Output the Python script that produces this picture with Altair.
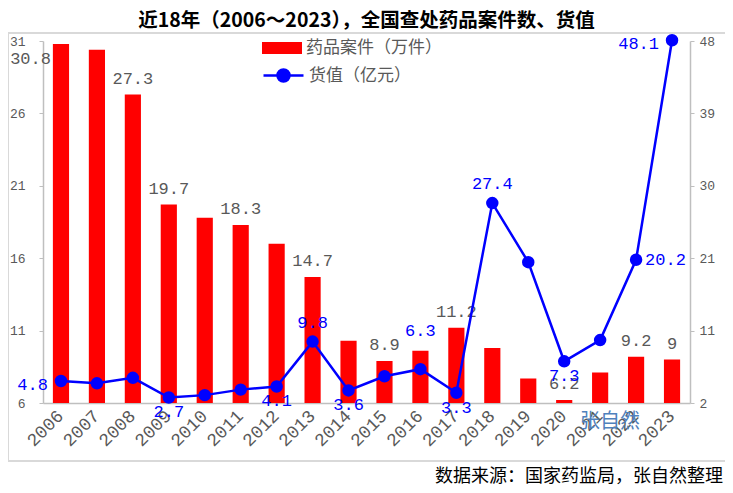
import altair as alt
import pandas as pd

years = [str(y) for y in range(2006, 2024)]
cases = [30.8, 30.4, 27.3, 19.7, 18.8, 18.3, 17.0, 14.7, 10.3, 8.9, 9.6, 11.2, 9.8, 7.7, 6.2, 8.1, 9.2, 9]
values = [4.8, 4.5, 5.2, 2.7, 3.0, 3.7, 4.1, 9.8, 3.6, 5.4, 6.3, 3.3, 27.4, 19.9, 7.3, 10.0, 20.2, 48.1]

case_label_above = ["2008", "2009", "2011", "2013", "2015", "2017", "2020", "2022", "2023"]
case_label_left = ["2006"]
value_label_left = ["2006", "2023"]
value_label_below = ["2009", "2012", "2014", "2017", "2020"]
value_label_above = ["2013", "2018"]
value_label_high = ["2016"]
value_label_right = ["2022"]

left_ticks = [6, 11, 16, 21, 26, 31]
right_ticks = [2, 11.2, 20.4, 29.6, 38.8, 48]
right_tick_labels = ["2", "11", "21", "30", "39", "48"]

case_name = "药品案件（万件）"
value_name = "货值（亿元）"
title_text = "近18年（2006～2023），全国查处药品案件数、货值"
source_text = "数据来源：国家药监局，张自然整理"
mark_text_str = "张自然"

df = pd.DataFrame({"year": years, "cases": cases, "values": values,
                   "s1": [case_name] * len(years), "s2": [value_name] * len(years)})

W, H = 647, 362
NUM_FONT = "Liberation Mono"
CJK = "Noto Sans CJK SC"
GRAY = "#595959"
AX = "#bfbfbf"

x = alt.X("year:N", title=None,
          scale=alt.Scale(paddingInner=0.55, paddingOuter=0.275),
          axis=alt.Axis(labelAngle=-45, labelAlign="right", labelBaseline="middle",
                        labelPadding=10, ticks=False, domainColor=AX, domainWidth=1.5,
                        labelFont=NUM_FONT, labelFontSize=18, labelColor=GRAY))

yl = alt.Y("cases:Q", title=None, scale=alt.Scale(domain=[6, 31], zero=False, nice=False),
           axis=alt.Axis(values=left_ticks, orient="left", grid=False, domainColor=AX,
                         domainWidth=1.5, tickColor=AX, tickSize=4, labelPadding=14,
                         labelFont=NUM_FONT, labelFontSize=13, labelColor=GRAY))

yr = alt.Y("values:Q", title=None, scale=alt.Scale(domain=[2, 48], zero=False, nice=False),
           axis=alt.Axis(values=right_ticks, orient="right", grid=False, domainColor=AX,
                         domainWidth=1.5, tickColor=AX, tickSize=4, labelPadding=5,
                         labelFont=NUM_FONT, labelFontSize=13, labelColor=GRAY,
                         labelExpr=str(right_tick_labels) + "[round((datum.value-2)/9.2)]"))

base = alt.Chart(df)

bars = base.mark_bar(clip=True).encode(
    x=x, y=yl,
    fill=alt.Fill("s1:N", scale=alt.Scale(domain=[case_name], range=["#ff0000"]),
                  legend=alt.Legend(orient="none", legendX=219, legendY=-13, title=None,
                                    symbolType="M-1,-0.3L1,-0.3L1,0.3L-1,0.3Z",
                                    symbolSize=1600, symbolStrokeWidth=0, padding=0,
                                    labelOffset=4, labelFont=CJK, labelFontSize=17,
                                    labelColor=GRAY)),
)

bar_txt_above = base.transform_filter(
    alt.FieldOneOfPredicate(field="year", oneOf=case_label_above)
).mark_text(baseline="middle", dy=-16, font=NUM_FONT, fontSize=17, color=GRAY).encode(
    x=x, y=yl, text="cases:Q")

bar_txt_left = base.transform_filter(
    alt.FieldOneOfPredicate(field="year", oneOf=case_label_left)
).mark_text(baseline="middle", align="right", dx=-10, dy=15, font=NUM_FONT, fontSize=17,
            color=GRAY).encode(x=x, y=yl, text="cases:Q")

left = alt.layer(bars, bar_txt_above, bar_txt_left)

line = base.mark_line(color="#0000ff", strokeWidth=2.5).encode(x=x, y=yr)
dots = base.mark_circle(size=110, opacity=1, stroke="#0000ff").encode(
    x=x, y=yr,
    fill=alt.Fill("s2:N", scale=alt.Scale(domain=[value_name], range=["#0000ff"]),
                  legend=alt.Legend(orient="none", legendX=219, legendY=13, title=None,
                                    symbolType="M-1,0L1,0M0.3,0A0.3,0.3,0,1,1,-0.3,0A0.3,0.3,0,1,1,0.3,0Z",
                                    symbolSize=1600, symbolStrokeColor="#0000ff",
                                    symbolFillColor="#0000ff", symbolStrokeWidth=2.5,
                                    padding=0, labelOffset=4, labelFont=CJK,
                                    labelFontSize=17, labelColor=GRAY)))


def vlabels(sel, **kw):
    return base.transform_filter(
        alt.FieldOneOfPredicate(field="year", oneOf=sel)
    ).mark_text(font=NUM_FONT, fontSize=17, color="#0000ff", baseline="middle", **kw).encode(
        x=x, y=yr, text="values:Q")


right = alt.layer(
    line, dots,
    vlabels(value_label_left, align="right", dx=-13, dy=4),
    vlabels(value_label_below, align="center", dy=15),
    vlabels(value_label_above, align="center", dy=-19),
    vlabels(value_label_high, align="center", dy=-38),
    vlabels(value_label_right, align="left", dx=9),
)

one = alt.Chart(pd.DataFrame({"a": [0]}))
border = one.mark_rect(filled=False, stroke="#d9d9d9", strokeWidth=2).encode(
    x=alt.value(-35), x2=alt.value(683), y=alt.value(-8), y2=alt.value(420))
title = one.mark_text(text=title_text, font=CJK, fontSize=19.5, fontWeight="bold",
                      color="#000000", align="center", baseline="middle").encode(
    x=alt.value(W / 2), y=alt.value(-20))
watermark = one.mark_text(text=mark_text_str, font=CJK, fontSize=20, color="#4f81bd",
                          align="center", baseline="middle").encode(
    x=alt.value(567), y=alt.value(381))
footer = one.mark_text(text=source_text, font=CJK, fontSize=18, color="#000000",
                       align="right", baseline="middle").encode(
    x=alt.value(680), y=alt.value(436))

chart = alt.layer(border, left, right, title, watermark, footer).resolve_scale(
    y="independent", fill="independent"
).resolve_legend(fill="independent").properties(
    width=W, height=H,
    autosize=alt.AutoSizeParams(type="none"),
    padding={"left": 35, "top": 33, "right": 35, "bottom": 85},
).configure_view(stroke=None)

chart.save("out.html", embed_options={"renderer": "svg", "actions": False})
